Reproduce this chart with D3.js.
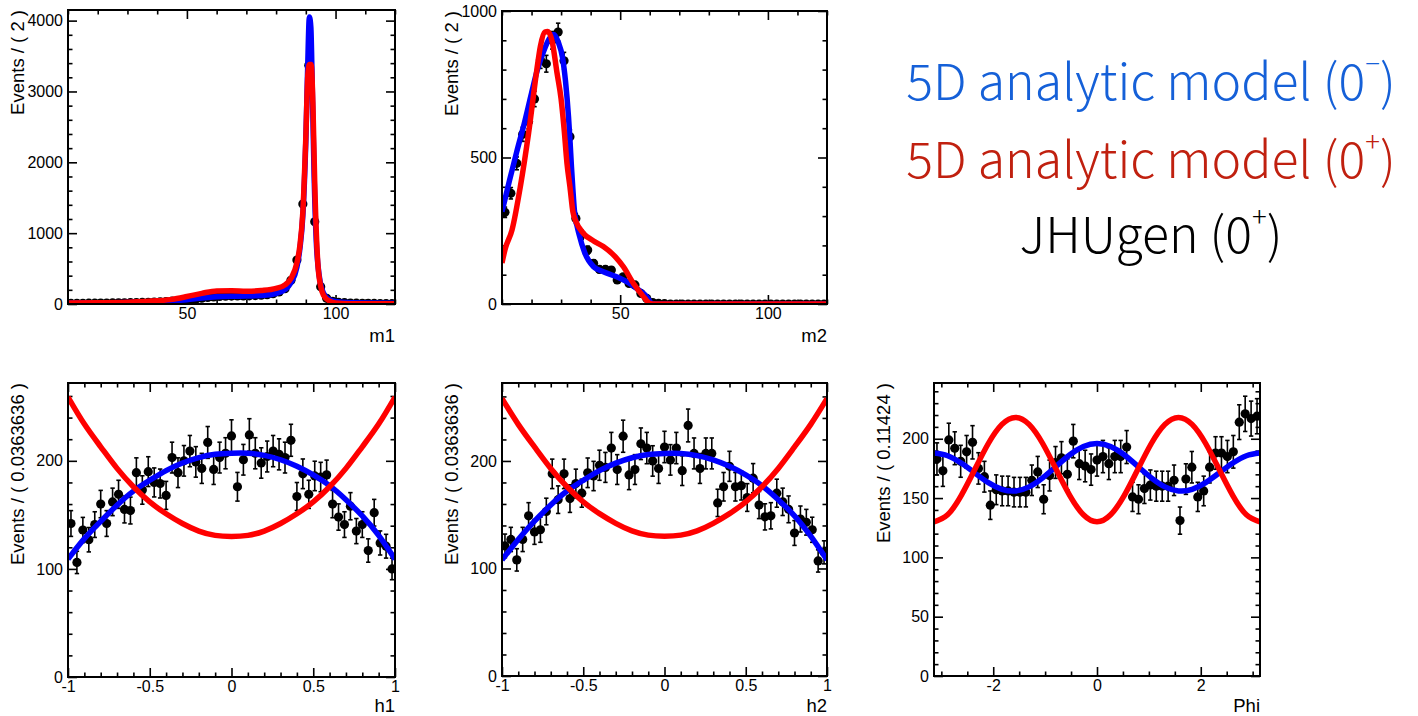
<!DOCTYPE html>
<html>
<head>
<meta charset="utf-8">
<script src="https://cdn.jsdelivr.net/npm/d3@7"></script>
<style>
  body { margin: 0; background: #fff; }
  svg { display: block; }
  .axis text { font-family: "Liberation Sans", Arial, Helvetica, sans-serif; font-size: 16px; fill: #000; }
  .axis line { stroke: #000; stroke-width: 1.6; }
  .axis path { display: none; }
  .title { font-family: "Liberation Sans", Arial, Helvetica, sans-serif; font-size: 18.5px; fill: #000; }
  .legend { font-family: "Noto Sans CJK KR", "Noto Sans", sans-serif; font-weight: 300; font-size: 50px; }
</style>
</head>
<body>
<svg id="chart" width="1418" height="716"></svg>
<script>
// ---------- binning ----------
const nBins = 55;
const m1Range = [10, 120];
const m2Range = [10, 120];
const h1Range = [-1, 1];
const h2Range = [-1, 1];
const phiRange = [-Math.PI, Math.PI];

// ---------- generated events per bin (JHUgen 0+) ----------
const m1Counts = [8, 9, 10, 11, 12, 13, 14, 15, 16, 17, 18, 20, 22, 24, 27, 30, 34, 40, 46, 54,
  62, 72, 82, 92, 100, 106, 110, 112, 113, 114, 116, 119, 124, 132, 146, 170, 215, 335, 620, 1410,
  3370, 1160, 245, 80, 38, 24, 18, 14, 12, 10, 9, 8, 7, 6, 5];
const m2Counts = [313, 378, 480, 579, 623, 700, 833, 820, 900, 928, 830, 571, 292, 236, 184, 139, 118, 118, 116, 82,
  93, 70, 65, 36, 19, 5, 2, 1, 0, 0, 0, 0, 0, 0, 0, 0, 0, 0, 0, 0,
  0, 0, 0, 0, 0, 0, 0, 0, 0, 0, 0, 0, 0, 0, 0];
const h1Counts = [142, 106, 136, 127, 141, 160, 142, 162, 169, 155, 154, 189, 173, 190, 180, 179, 168, 203, 189, 200,
  209, 199, 193, 217, 192, 203, 207, 223, 176, 201, 224, 207, 198, 204, 209, 206, 203, 219, 167, 188,
  169, 186, 185, 187, 160, 148, 141, 158, 135, 141, 117, 152, 124, 121, 100];
const h2Counts = [121, 127, 108, 127, 149, 134, 136, 153, 188, 164, 188, 165, 179, 170, 189, 186, 196, 194, 212, 192,
  223, 187, 192, 216, 212, 200, 193, 213, 201, 212, 191, 233, 207, 193, 207, 207, 161, 176, 195, 176,
  177, 166, 184, 159, 148, 149, 170, 162, 155, 133, 146, 143, 136, 107, 115];
const phiCounts = [183, 173, 199, 192, 181, 189, 197, 175, 168, 144, 157, 156, 156, 155, 155, 155, 165, 172, 149, 169,
  180, 184, 170, 198, 179, 177, 174, 182, 185, 179, 185, 185, 193, 151, 149, 158, 161, 160, 160, 160,
  165, 131, 166, 176, 151, 156, 176, 188, 188, 185, 189, 214, 221, 217, 219];

// ---------- 5D analytic model projections: [x, events per bin] ----------
const m1Minus = [[10,15],[20,18],[30,22],[40,35],[45,45],[50,60],[55,85],[60,103],[65,110],[70,112],[75,120],
  [80,148],[83,205],[85,300],[87,520],[88,780],[89,1250],[90,2300],[90.6,3300],[91.2,4050],[91.7,3900],
  [92.2,3000],[92.8,1800],[93.5,900],[94.5,400],[95.5,200],[97,90],[99,45],[102,25],[110,15],[120,12]];
const m1Plus = [[10,15],[20,18],[30,25],[40,45],[45,65],[50,105],[55,150],[60,185],[65,188],[70,180],[75,190],
  [80,220],[83,270],[85,360],[87,580],[88,820],[89,1300],[90,2350],[90.7,3250],[91.2,3380],[91.8,3380],
  [92.4,2800],[93,1700],[94,600],[95,250],[96,120],[98,40],[100,15],[105,5],[120,3]];
const m2Minus = [[10,315],[12.5,420],[15,520],[17.5,615],[20,720],[22,800],[24,860],[26,905],[27.5,920],[29,895],
  [30.5,840],[31.5,760],[32.5,640],[33,560],[33.5,470],[34,390],[34.5,320],[35.5,262],[36,241],[38,175],
  [41,127],[44.3,110],[48.8,93],[52.2,76],[55.6,53],[59,25],[60.7,2],[62,0],[120,0]];
const m2Plus = [[10,140],[11,185],[13.4,253],[16.2,400],[19,583],[21.8,800],[23,880],[24.5,928],[25.5,930],[27,895],
  [28.6,790],[30,700],[31,600],[32,480],[33,400],[34,315],[35,282],[37.6,241],[41,215],[44.3,196],
  [48.3,162],[51.1,127],[54.5,70],[57.9,25],[60,2],[61,0],[120,0]];
const hGrid = [-1, -0.9, -0.8, -0.7, -0.6, -0.5, -0.4, -0.3, -0.2, -0.1, 0, 0.1, 0.2, 0.3, 0.4, 0.5, 0.6, 0.7, 0.8, 0.9, 1];
const h1Minus = [109, 128, 144, 159, 172, 182, 191, 198, 203, 206, 207, 207, 205, 201, 195, 187, 177, 164, 149, 131, 109];
const h1Plus = [259, 234, 213, 193, 176, 162, 151, 142, 135, 131, 130, 131, 135, 142, 151, 162, 176, 193, 213, 234, 259];
const h2Minus = [108, 127, 144, 159, 172, 182, 191, 198, 203, 206, 207, 207, 205, 201, 195, 187, 177, 164, 149, 130, 108];
const h2Plus = [258, 234, 213, 193, 176, 162, 151, 142, 135, 131, 130, 131, 135, 142, 151, 162, 176, 193, 213, 234, 258];
const phiGrid = d3.range(25).map(i => -Math.PI + i * Math.PI / 12);
const phiMinus = [188, 185.7, 179.5, 171.2, 163, 157.4, 156, 159.4, 167, 176.8, 186.5, 193.5, 196,
  193.5, 186.5, 176.8, 167, 159.4, 156, 157.4, 163, 171.2, 179.5, 185.7, 188];
const phiPlus = [130, 135.9, 152, 174, 196, 212.1, 218, 212.1, 196, 174, 152, 135.9, 130,
  135.9, 152, 174, 196, 212.1, 218, 212.1, 196, 174, 152, 135.9, 130];

// ---------- axis ticks ----------
const mMajor = [50, 100];
const hMajor = [-1, -0.5, 0, 0.5, 1];
const phiMajor = [-2, 0, 2];
const m1YMajor = [0, 1000, 2000, 3000, 4000];
const m2YMajor = [0, 500, 1000];
const hYMajor = [0, 100, 200];
const phiYMajor = [0, 50, 100, 150, 200];

const zip = (xs, ys) => xs.map((x, i) => [x, ys[i]]);

const panels = [
  { xTitle: "m1", yTitle: "Events / ( 2 )", frame: [68, 10, 395, 304],
    xRange: m1Range, yMax: 4150, counts: m1Counts,
    xMajor: mMajor, xMinor: d3.range(10, 121, 10), yMajor: m1YMajor, yMinor: d3.range(0, 4150, 200),
    minus: m1Minus, plus: m1Plus, curve: d3.curveMonotoneX },
  { xTitle: "m2", yTitle: "Events / ( 2 )", frame: [502, 11, 827, 304],
    xRange: m2Range, yMax: 1000, counts: m2Counts,
    xMajor: mMajor, xMinor: d3.range(10, 121, 10), yMajor: m2YMajor, yMinor: d3.range(0, 1001, 100),
    minus: m2Minus, plus: m2Plus, curve: d3.curveMonotoneX },
  { xTitle: "h1", yTitle: "Events / ( 0.0363636 )", frame: [68, 383, 395, 677],
    xRange: h1Range, yMax: 272, counts: h1Counts,
    xMajor: hMajor, xMinor: d3.range(-10, 11).map(d => d / 10), yMajor: hYMajor, yMinor: d3.range(0, 272, 20),
    minus: zip(hGrid, h1Minus), plus: zip(hGrid, h1Plus), curve: d3.curveNatural },
  { xTitle: "h2", yTitle: "Events / ( 0.0363636 )", frame: [502, 383, 827, 676],
    xRange: h2Range, yMax: 272.5, counts: h2Counts,
    xMajor: hMajor, xMinor: d3.range(-10, 11).map(d => d / 10), yMajor: hYMajor, yMinor: d3.range(0, 272, 20),
    minus: zip(hGrid, h2Minus), plus: zip(hGrid, h2Plus), curve: d3.curveNatural },
  { xTitle: "Phi", yTitle: "Events / ( 0.11424 )", frame: [934, 383, 1260, 676],
    xRange: phiRange, yMax: 247, counts: phiCounts,
    xMajor: phiMajor, xMinor: d3.range(-6, 7).map(d => d / 2), yMajor: phiYMajor, yMinor: d3.range(0, 247, 10),
    minus: zip(phiGrid, phiMinus), plus: zip(phiGrid, phiPlus), curve: d3.curveNatural }
];

const svg = d3.select("#chart");
const fmt = d => String(d);
const MAJOR = 9, MINOR = 4.5;

panels.forEach((p, idx) => {
  const [x0, y0, x1, y1] = p.frame;
  const x = d3.scaleLinear().domain(p.xRange).range([x0, x1]);
  const y = d3.scaleLinear().domain([0, p.yMax]).range([y1, y0]);
  const g = svg.append("g");

  const clipId = "clip" + idx;
  svg.append("clipPath").attr("id", clipId)
    .append("rect").attr("x", x0).attr("y", y0).attr("width", x1 - x0).attr("height", y1 - y0);

  // minor ticks on all four sides
  const minorX = xs => xs.filter(v => !p.xMajor.includes(v) && v >= p.xRange[0] && v <= p.xRange[1]);
  const minorY = ys => ys.filter(v => !p.yMajor.includes(v));
  g.append("g").attr("class", "axis").attr("transform", `translate(0,${y1})`)
    .call(d3.axisBottom(x).tickValues(minorX(p.xMinor)).tickSize(-MINOR).tickFormat(""));
  g.append("g").attr("class", "axis").attr("transform", `translate(0,${y0})`)
    .call(d3.axisTop(x).tickValues(minorX(p.xMinor)).tickSize(-MINOR).tickFormat(""));
  g.append("g").attr("class", "axis").attr("transform", `translate(${x0},0)`)
    .call(d3.axisLeft(y).tickValues(minorY(p.yMinor)).tickSize(-MINOR).tickFormat(""));
  g.append("g").attr("class", "axis").attr("transform", `translate(${x1},0)`)
    .call(d3.axisRight(y).tickValues(minorY(p.yMinor)).tickSize(-MINOR).tickFormat(""));

  // major ticks with labels on bottom and left, plain on top and right
  g.append("g").attr("class", "axis").attr("transform", `translate(0,${y1})`)
    .call(d3.axisBottom(x).tickValues(p.xMajor).tickSize(-MAJOR).tickPadding(4).tickFormat(fmt));
  g.append("g").attr("class", "axis").attr("transform", `translate(0,${y0})`)
    .call(d3.axisTop(x).tickValues(p.xMajor).tickSize(-MAJOR).tickFormat(""));
  g.append("g").attr("class", "axis").attr("transform", `translate(${x0},0)`)
    .call(d3.axisLeft(y).tickValues(p.yMajor).tickSize(-MAJOR).tickPadding(5).tickFormat(fmt));
  g.append("g").attr("class", "axis").attr("transform", `translate(${x1},0)`)
    .call(d3.axisRight(y).tickValues(p.yMajor).tickSize(-MAJOR).tickFormat(""));

  // axis titles
  g.append("text").attr("class", "title")
    .attr("x", x1).attr("y", Math.min(y1 + 38, 712)).attr("text-anchor", "end").text(p.xTitle);
  g.append("text").attr("class", "title")
    .attr("transform", `translate(${x0 - 44},${y0}) rotate(-90)`)
    .attr("text-anchor", "end").text(p.yTitle);

  // data points with Poisson error bars
  const w = (p.xRange[1] - p.xRange[0]) / nBins;
  const pts = p.counts.map((c, i) => ({ x: p.xRange[0] + (i + 0.5) * w, n: c, e: Math.sqrt(Math.max(c, 1)) }));
  const data = g.append("g").attr("clip-path", `url(#${clipId})`);
  data.selectAll("line.err").data(pts).join("line").attr("class", "err")
    .attr("x1", d => x(d.x)).attr("x2", d => x(d.x))
    .attr("y1", d => y(d.n - d.e)).attr("y2", d => y(d.n + d.e))
    .attr("stroke", "#000").attr("stroke-width", 1.6);
  [-1, 1].forEach(s => {
    data.selectAll("line.cap" + (s > 0 ? "u" : "d")).data(pts).join("line")
      .attr("class", "cap" + (s > 0 ? "u" : "d"))
      .attr("x1", d => x(d.x) - 2.2).attr("x2", d => x(d.x) + 2.2)
      .attr("y1", d => y(d.n + s * d.e)).attr("y2", d => y(d.n + s * d.e))
      .attr("stroke", "#000").attr("stroke-width", 1.6);
  });
  data.selectAll("circle").data(pts).join("circle")
    .attr("cx", d => x(d.x)).attr("cy", d => y(d.n)).attr("r", 4.6).attr("fill", "#000");

  // model curves
  const line = d3.line().x(d => x(d[0])).y(d => y(d[1])).curve(p.curve);
  const curves = g.append("g").attr("clip-path", `url(#${clipId})`);
  curves.append("path").datum(p.minus).attr("d", line)
    .attr("fill", "none").attr("stroke", "#0000ff").attr("stroke-width", 5.5).attr("stroke-linejoin", "round");
  curves.append("path").datum(p.plus).attr("d", line)
    .attr("fill", "none").attr("stroke", "#ff0000").attr("stroke-width", 5.5).attr("stroke-linejoin", "round");

  // frame
  g.append("rect").attr("x", x0).attr("y", y0).attr("width", x1 - x0).attr("height", y1 - y0)
    .attr("fill", "none").attr("stroke", "#000").attr("stroke-width", 2);
});

// ---------- legend ----------
const legendLines = [
  { base: "5D analytic model (0", sup: "\u2212", color: "#1560d8", y: 100 },
  { base: "5D analytic model (0", sup: "+", color: "#c0200f", y: 178 },
  { base: "JHUgen (0", sup: "+", color: "#000000", y: 253 }
];
const lg = svg.append("g");
legendLines.forEach(l => {
  const t = lg.append("text").attr("class", "legend").attr("x", 1151).attr("y", l.y)
    .attr("text-anchor", "middle").attr("fill", l.color);
  t.append("tspan").text(l.base);
  t.append("tspan").attr("font-size", "55%").attr("dy", "-0.95em").text(l.sup);
  t.append("tspan").attr("dy", "0.52em").text(")");
});
</script>
</body>
</html>
